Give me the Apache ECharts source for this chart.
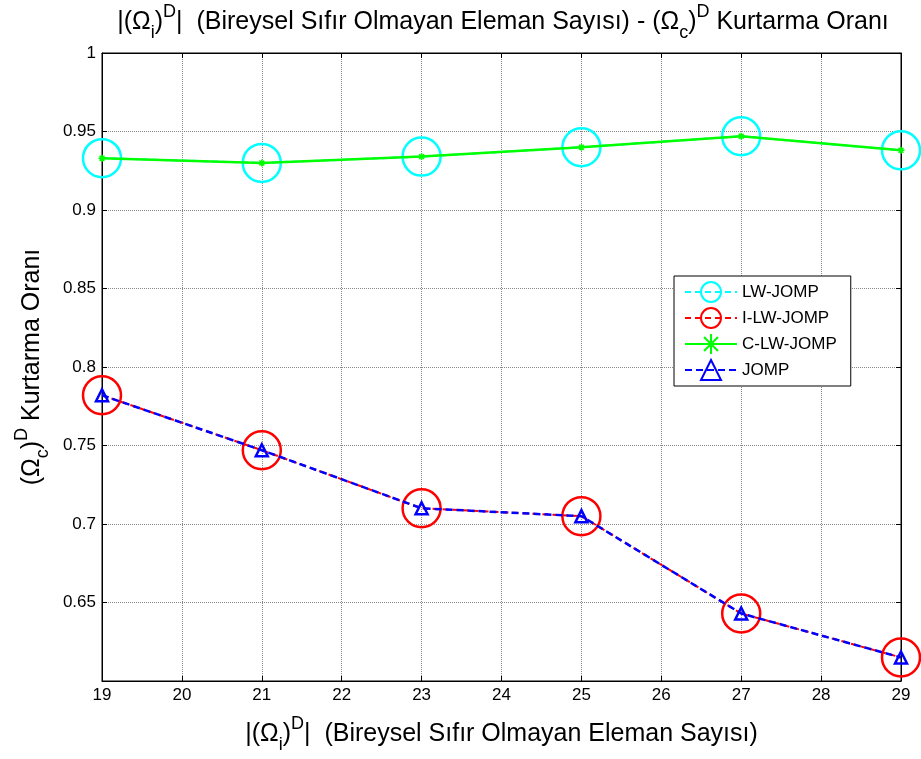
<!DOCTYPE html>
<html><head><meta charset="utf-8">
<script src="https://cdn.jsdelivr.net/npm/echarts@6/dist/echarts.min.js"></script>
<style>html,body{margin:0;padding:0;background:#fff}#c{width:921px;height:759px}</style>
</head><body><div id="c"></div>
<script>
const xValues = [19, 21, 23, 25, 27, 29];
const lwJomp = [0.933, 0.930, 0.934, 0.940, 0.947, 0.938];
const ilwJomp = [0.782, 0.747, 0.710, 0.705, 0.643, 0.615];
const clwJomp = [0.933, 0.930, 0.934, 0.940, 0.947, 0.938];
const jomp = [0.782, 0.747, 0.710, 0.705, 0.643, 0.615];
const seriesNames = ['LW-JOMP', 'I-LW-JOMP', 'C-LW-JOMP', 'JOMP'];

const pairs = arr => xValues.map((x, i) => [x, arr[i]]);
const FONT = 'Liberation Sans, Arial, Helvetica, sans-serif';
const rich = (size) => ({
  b: {fontSize: size, fontFamily: FONT, color: '#000', lineHeight: size + 14, verticalAlign: 'middle'},
  sub: {fontSize: Math.round(size * 0.72), fontFamily: FONT, color: '#000', verticalAlign: 'bottom', lineHeight: size + 14},
  sup: {fontSize: Math.round(size * 0.72), fontFamily: FONT, color: '#000', verticalAlign: 'top', lineHeight: size + 12}
});
const asterisk = 'path://M0,-5L0,5M-5,0L5,0M-3.5,-3.5L3.5,3.5M-3.5,3.5L3.5,-3.5';

const chart = echarts.init(document.getElementById('c'), null, {renderer: 'canvas'});
chart.setOption({
  animation: false,
  backgroundColor: '#fff',
  title: {
    text: '{b||(Ω}{sub|i}{b|)}{sup|D}{b||  (Bireysel Sıfır Olmayan Eleman Sayısı) - (Ω}{sub|c}{b|)}{sup|D}{b| Kurtarma Oranı}',
    left: 498, top: -2, textAlign: 'center',
    textStyle: {rich: rich(25), fontSize: 25, fontWeight: 'normal', fontFamily: FONT, color: '#000'}
  },
  grid: {left: 102, right: 20, top: 53, bottom: 76, show: true, borderColor: '#000', borderWidth: 1, backgroundColor: '#fff'},
  legend: {
    orient: 'vertical', left: 674, top: 276,
    data: seriesNames,
    itemWidth: 52, itemHeight: 25, itemGap: 4,
    backgroundColor: '#fff', borderColor: '#000', borderWidth: 1,
    padding: [5, 14, 5, 10],
    textStyle: {fontSize: 17, fontFamily: FONT, color: '#000'}
  },
  xAxis: [{
    type: 'value', min: 19, max: 29, interval: 1,
    name: '{b||(Ω}{sub|i}{b|)}{sup|D}{b||  (Bireysel Sıfır Olmayan Eleman Sayısı)}',
    nameLocation: 'middle', nameGap: 34,
    nameTextStyle: {rich: rich(25), fontSize: 25, fontFamily: FONT, color: '#000'},
    axisLine: {show: true, lineStyle: {color: '#000', width: 1}},
    axisTick: {show: true, inside: true, length: 5, lineStyle: {color: '#000'}},
    axisLabel: {fontSize: 17, fontFamily: FONT, color: '#000', margin: 6},
    splitLine: {show: true, lineStyle: {color: '#888', type: 'dotted', width: 1}}
  }, {
    type: 'value', min: 19, max: 29, interval: 1, position: 'top',
    axisLine: {show: true, lineStyle: {color: '#000'}},
    axisTick: {show: true, inside: true, length: 5, lineStyle: {color: '#000'}},
    axisLabel: {show: false}, splitLine: {show: false}
  }],
  yAxis: [{
    type: 'value', min: 0.6, max: 1, interval: 0.05,
    name: '{b|(Ω}{sub|c}{b|)}{sup|D}{b| Kurtarma Oranı}',
    nameLocation: 'middle', nameGap: 50, nameRotate: 90,
    nameTextStyle: {rich: rich(25), fontSize: 25, fontFamily: FONT, color: '#000'},
    axisLine: {show: true, lineStyle: {color: '#000', width: 1}},
    axisTick: {show: true, inside: true, length: 5, lineStyle: {color: '#000'}},
    axisLabel: {fontSize: 17, fontFamily: FONT, color: '#000', margin: 6,
      formatter: v => Math.abs(v - 0.6) < 1e-6 ? '' : String(parseFloat(v.toFixed(2)))},
    splitLine: {show: true, lineStyle: {color: '#888', type: 'dotted', width: 1}}
  }, {
    type: 'value', min: 0.6, max: 1, interval: 0.05, position: 'right',
    axisLine: {show: true, lineStyle: {color: '#000'}},
    axisTick: {show: true, inside: true, length: 5, lineStyle: {color: '#000'}},
    axisLabel: {show: false}, splitLine: {show: false}
  }],
  series: [{
    name: 'LW-JOMP', type: 'line', data: pairs(lwJomp),
    symbol: 'circle', symbolSize: 38,
    lineStyle: {color: '#00ffff', width: 2, type: [6, 4]},
    itemStyle: {color: 'rgba(0,0,0,0)', borderColor: '#00ffff', borderWidth: 2.5}, z: 2
  }, {
    name: 'I-LW-JOMP', type: 'line', data: pairs(ilwJomp),
    symbol: 'circle', symbolSize: 38,
    lineStyle: {color: '#ff0000', width: 2, type: [6, 4]},
    itemStyle: {color: 'rgba(0,0,0,0)', borderColor: '#ff0000', borderWidth: 2.5}, z: 2
  }, {
    name: 'C-LW-JOMP', type: 'line', data: pairs(clwJomp),
    symbol: asterisk, symbolSize: 7,
    lineStyle: {color: '#00ff00', width: 2.5},
    itemStyle: {color: '#00ff00', borderColor: '#00ff00', borderWidth: 1.5}, z: 3
  }, {
    name: 'JOMP', type: 'line', data: pairs(jomp),
    symbol: 'triangle', symbolSize: 12,
    lineStyle: {color: '#0000ff', width: 2.5, type: [7, 4]},
    itemStyle: {color: 'rgba(0,0,0,0)', borderColor: '#0000ff', borderWidth: 2.5}, z: 4
  }]
});
</script></body></html>
